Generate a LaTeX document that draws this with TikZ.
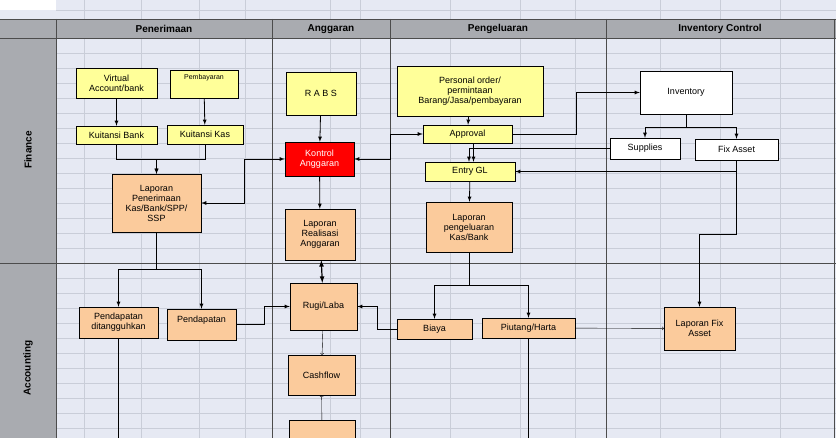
\documentclass[tikz,border=0pt]{standalone}
\usepackage{fontspec}
\setmainfont{Liberation Sans}
\usetikzlibrary{arrows}
\definecolor{lane}{HTML}{E6E9F3}
\definecolor{gridc}{HTML}{C9CDD8}
\definecolor{head}{HTML}{A9ABB0}
\definecolor{yel}{HTML}{FFFF99}
\definecolor{peach}{HTML}{FBCB9C}
\tikzset{
  box/.style={draw,thin,align=center,inner sep=1pt,font=\fontsize{9}{10}\selectfont},
  yel/.style={box,fill=yel},
  pch/.style={box,fill=peach},
  wht/.style={box,fill=white},
  arr/.style={-latex,thick},
  darr/.style={latex-latex,thick},
  hd/.style={font=\bfseries\fontsize{10}{12}\selectfont}
}
\begin{document}
\begin{tikzpicture}[x=1pt,y=-1pt]
	   \useasboundingbox (0,0) rectangle (836,438);
	   % background and grid
	   \fill [lane] (0,0) rectangle (836,438);
	   \fill [white] (0,0) rectangle (56,10);
	   \foreach \x in {84,141,199,245,330,360,450,520,575,660,720,780} \draw [gridc,thin] (\x,0) -- (\x,438);
	   \foreach \y in {10,53,68,83,98,113,128,143,158,173,188,203,218,233,248,278,293,308,323,338,353,368,383,398,413,428} \draw [gridc,thin] (56,\y) -- (836,\y);
	   % lanes
	   \fill [head] (0,19) rectangle (836,38);
	   \fill [head] (0,19) rectangle (56,438);
	   \draw [gray!60!black] (0,19) -- (836,19);
	   \draw [gray!60!black] (0,38) -- (836,38);
	   \draw [gray!60!black] (0,263) -- (836,263);
	   \foreach \x in {56,272,390,606,834} \draw [gray!60!black] (\x,19) -- (\x,438);
	   \node [hd] (h1) at (164,29) {Penerimaan};
	   \node [hd] (h2) at (331,29) {Anggaran};
	   \node [hd] (h3) at (498,29) {Pengeluaran};
	   \node [hd] (h4) at (720,29) {Inventory Control};
	   \node [hd,rotate=90] (l1) at (28,150) {Finance};
	   \node [hd,rotate=90] (l2) at (28,368) {Accounting};
	   % finance
	   \node [yel,minimum width=81,minimum height=30] (va) at (116.5,83) {Virtual\\Account/bank};
	   \node [yel,minimum width=68,minimum height=28,font=\fontsize{7}{8}\selectfont,text depth=14pt] (pemb) at (204,84) {Pembayaran};
	   \node [yel,minimum width=81,minimum height=18] (kb) at (116.5,135) {Kuitansi Bank};
	   \node [yel,minimum width=76,minimum height=19] (kk) at (205,134.5) {Kuitansi Kas};
	   \node [pch,minimum width=89,minimum height=58] (lpk) at (156.5,203) {Laporan\\Penerimaan\\Kas/Bank/SPP/\\SSP};
	   \node [yel,minimum width=70,minimum height=43] (rabs) at (321,93.5) {R A B S};
	   \node [box,fill=red,text=white,minimum width=69,minimum height=34] (ka) at (319.5,159) {Kontrol\\Anggaran};
	   \node [pch,minimum width=70,minimum height=51] (lra) at (320,234.5) {Laporan\\Realisasi\\Anggaran};
	   \node [yel,minimum width=146,minimum height=50] (po) at (470,91) {Personal order/\\permintaan\\Barang/Jasa/pembayaran};
	   \node [yel,minimum width=89,minimum height=18] (appr) at (467.5,134) {Approval};
	   \node [yel,minimum width=90,minimum height=19] (egl) at (470,171.5) {Entry GL};
	   \node [pch,minimum width=86,minimum height=50] (lpg) at (469,227) {Laporan\\pengeluaran\\Kas/Bank};
	   \node [wht,minimum width=92,minimum height=43] (inv) at (686,92.5) {Inventory};
	   \node [wht,minimum width=70,minimum height=21] (sup) at (645,148.5) {Supplies};
	   \node [wht,minimum width=83,minimum height=21] (fa) at (736.5,149.5) {Fix Asset};
	   % accounting
	   \node [pch,minimum width=79,minimum height=31] (pdt) at (118.5,322.5) {Pendapatan\\ditangguhkan};
	   \node [pch,minimum width=69,minimum height=31,text depth=10pt] (pd) at (201.5,324.5) {Pendapatan};
	   \node [pch,minimum width=67,minimum height=47] (rl) at (323.5,306.5) {Rugi/Laba};
	   \node [pch,minimum width=75,minimum height=20] (by) at (434.5,329) {Biaya};
	   \node [pch,minimum width=93,minimum height=20] (ph) at (528.5,328) {Piutang/Harta};
	   \node [pch,minimum width=71,minimum height=43] (lfa) at (699.5,328.5) {Laporan Fix\\Asset};
	   \node [pch,minimum width=67,minimum height=40] (cf) at (321.5,375) {Cashflow};
	   \node [pch,minimum width=66,minimum height=36] (bx) at (322,438) {};
	   % connectors
	   \draw [arr] (va) -- (kb);
	   \draw [arr] (pemb) -- (kk);
	   \draw [arr] (kb.south) -- ++(0,15) -| (lpk.north);
	   \draw [arr] (kk.south) -- ++(0,15) -| (lpk.north);
	   \draw [darr] (lpk.east) -- ++(43,0) |- (ka.west);
	   \draw [darr] (ka.east) -- ++(36,0) |- (appr.west);
	   \draw [arr] (rabs) -- (ka);
	   \draw [arr] (ka) -- (lra);
	   \draw [darr,very thick] (lra) -- (rl);
	   \draw [arr] (po) -- (appr);
	   \draw [arr] (appr.east) -- ++(64,0) |- (inv.west);
	   \draw [arr] ([xshift=6pt]appr.south) -- ([xshift=6pt]appr.south |- egl.north);
	   \draw [arr] (sup.west) -| ([xshift=-1pt]egl.north);
	   \draw [arr] (inv.south) -- ++(0,13) -| (sup.north);
	   \draw [arr] (inv.south) -- ++(0,13) -| (fa.north);
	   \draw [arr] (fa.south) -- ++(0,12) |- (egl.east);
	   \draw [arr] (fa.south) -- ++(0,74) -| (lfa.north);
	   \draw [arr] (egl) -- (lpg);
	   \draw [arr] (lpg.south) -- ++(0,33) -| (by.north);
	   \draw [arr] (lpg.south) -- ++(0,33) -| (ph.north);
	   \draw [arr] (lpk.south) -- ++(0,37) -| (pdt.north);
	   \draw [arr] (lpk.south) -- ++(0,37) -| (pd.north);
	   \draw [arr] (pd.east) -- ++(28,0) |- (rl.west);
	   \draw [arr] (by.west) -- ++(-19,0) |- (rl.east);
	   \draw [-to,thin] (ph) -- (lfa);
	   \draw [-to,thin] (rl) -- (cf);
	   \draw [-to,thin] (bx) -- (cf);
	   \draw [thin] (pdt.south) -- ++(0,110);
	   \draw [thin] (ph.south) -- ++(0,110);
	\end{tikzpicture}
\end{document}
